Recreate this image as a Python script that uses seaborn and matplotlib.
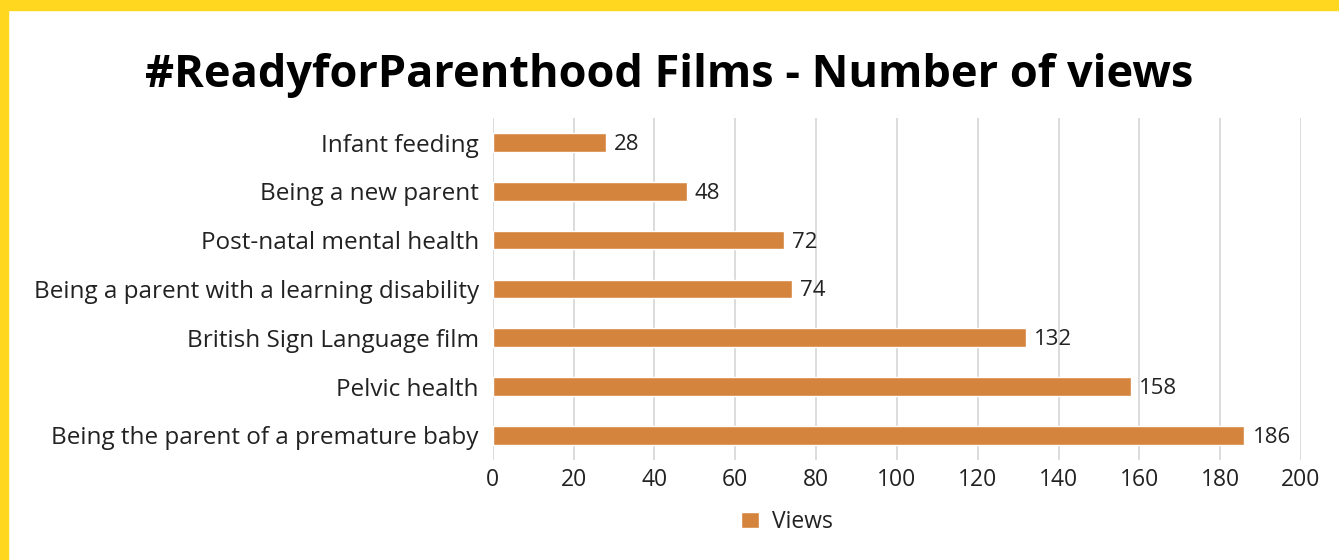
import matplotlib
matplotlib.use('Agg')
import matplotlib.pyplot as plt
import seaborn as sns
import pandas as pd

# data
films = ['Infant feeding', 'Being a new parent', 'Post-natal mental health',
         'Being a parent with a learning disability', 'British Sign Language film',
         'Pelvic health', 'Being the parent of a premature baby']
views = [28, 48, 72, 74, 132, 158, 186]
xticks = [0, 20, 40, 60, 80, 100, 120, 140, 160, 180, 200]

bar_color = '#D5843E'
yellow = '#FFD71E'

sns.set_style('white')
plt.rcParams['font.family'] = ['Open Sans', 'DejaVu Sans']

df = pd.DataFrame({'film': films, 'views': views})

fig = plt.figure(figsize=(13.39, 5.6), dpi=100)
ax = fig.add_axes([0.368, 0.179, 0.9716 - 0.368, 0.789 - 0.179])

sns.barplot(data=df, x='views', y='film', color=bar_color, width=0.38,
            saturation=1, ax=ax, label='Views', zorder=3)

for i, v in enumerate(views):
    ax.text(v + 2.0, i + 0.04, str(v), va='center', ha='left', fontsize=16, color='#222222')

ax.set_xlim(0, 200)
ax.set_xticks(xticks)
ax.set_xlabel('')
ax.set_ylabel('')
ax.tick_params(axis='x', labelsize=16.5, colors='#222222', length=0, pad=6)
ax.tick_params(axis='y', labelsize=17.5, colors='#222222', length=0, pad=10)
ax.grid(axis='x', color='#D9D9D9', linewidth=1.3, zorder=0)
for s in ax.spines.values():
    s.set_visible(False)

ax.legend(loc='center', bbox_to_anchor=(0.588, 0.068), bbox_transform=fig.transFigure,
          frameon=False, fontsize=16.5, handlelength=0.75, handleheight=0.75,
          handletextpad=0.6, labelcolor='#222222')

fig.text(0.5, 0.866, '#ReadyforParenthood Films - Number of views', ha='center',
         va='center', fontsize=32.5, fontweight='bold', color='black')

# yellow frame on top and left
fig.patches.append(plt.Rectangle((0, 1 - 10 / 560), 1, 10 / 560, transform=fig.transFigure,
                                 color=yellow, zorder=10))
fig.patches.append(plt.Rectangle((0, 0), 8 / 1339, 1, transform=fig.transFigure,
                                 color=yellow, zorder=10))

plt.savefig('out.png', dpi=100)
